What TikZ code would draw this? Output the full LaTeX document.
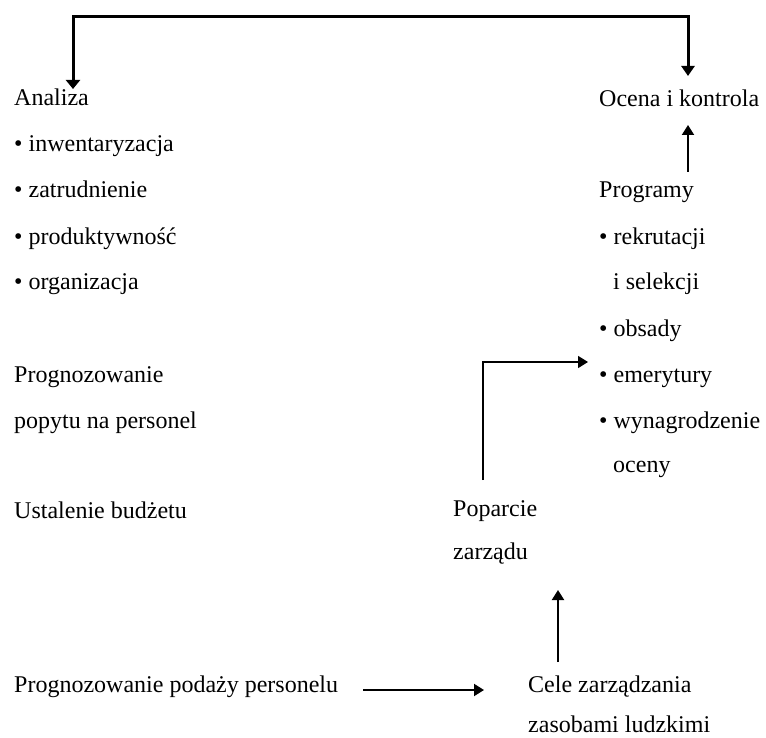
\documentclass[tikz,border=0pt]{standalone}
\usepackage{fontspec}
\setmainfont{Liberation Serif}
\usetikzlibrary{arrows.meta}
\begin{document}
\begin{tikzpicture}[x=1pt,y=-1pt,
  lbl/.style={anchor=base west,inner sep=0pt,font=\fontsize{24}{26}\selectfont},
  conn/.style={line width=2pt,-{Triangle[width=12pt,length=10pt]}},
  bigconn/.style={line width=3pt,{Triangle[width=14pt,length=9pt]}-{Triangle[width=13pt,length=10pt]}}]
\useasboundingbox (0,0) rectangle (766,738);
% left column
\node[lbl] (analiza) at (14,106) {Analiza};
\node[lbl] (inw) at (14,152) {• inwentaryzacja};
\node[lbl] (zatr) at (14,198) {• zatrudnienie};
\node[lbl] (prod) at (14,244) {• produktywność};
\node[lbl] (org) at (14,290) {• organizacja};
\node[lbl] (prog1) at (14,382) {Prognozowanie};
\node[lbl] (prog2) at (14,428) {popytu na personel};
\node[lbl] (budzet) at (14,518) {Ustalenie budżetu};
\node[lbl] (podaz) at (14,692) {Prognozowanie podaży personelu};
% right column
\node[lbl] (ocena) at (599,107) {Ocena i kontrola};
\node[lbl] (programy) at (599,198) {Programy};
\node[lbl] (rekr) at (599,244) {• rekrutacji};
\node[lbl] (sel) at (613,290) {i selekcji};
\node[lbl] (obs) at (599,336) {• obsady};
\node[lbl] (emer) at (599,382) {• emerytury};
\node[lbl] (wyn) at (599,428) {• wynagrodzenie};
\node[lbl] (oceny) at (613,472) {oceny};
% middle
\node[lbl] (pop1) at (453,516) {Poparcie};
\node[lbl] (pop2) at (453,559) {zarządu};
\node[lbl] (cele1) at (528,692) {Cele zarządzania};
\node[lbl] (cele2) at (528,732) {zasobami ludzkimi};
% connector end points
\coordinate (tipA) at (73,89);
\coordinate (tipO) at (688,76);
\coordinate (progTop) at (688,172);
\coordinate (ocenaBot) at (688,125);
\coordinate (popTop) at (483,480);
\coordinate (emerLeft) at (588,362);
\coordinate (celeTop) at (558,662);
\coordinate (popBot) at (558,590);
\coordinate (podazEnd) at (363,690);
\coordinate (celeLeft) at (484,690);
% connectors
\draw[bigconn] (tipA) -- (73,17) -| (tipO);
\draw[conn] (progTop) -- (ocenaBot);
\draw[conn,line width=1.6pt] (popTop) |- (emerLeft);
\draw[conn] (celeTop) -- (popBot);
\draw[conn] (podazEnd) -- (celeLeft);
\end{tikzpicture}
\end{document}
